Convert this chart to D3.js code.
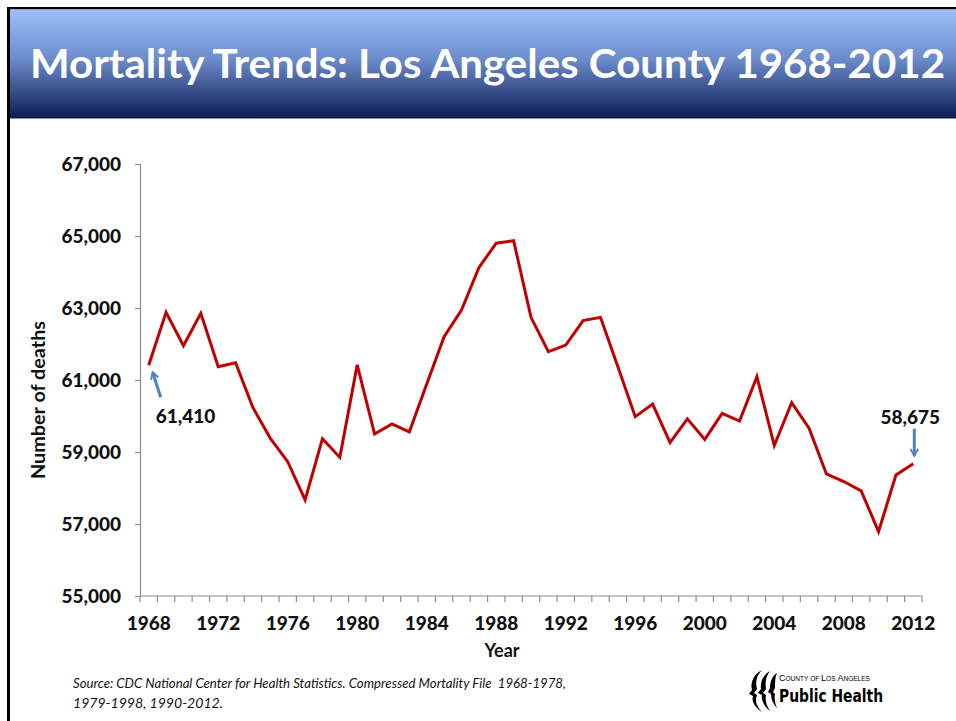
<!DOCTYPE html>
<html>
<head>
<meta charset="utf-8">
<script src="https://cdn.jsdelivr.net/npm/d3@7"></script>
<style>
  html, body { margin: 0; padding: 0; background: #fff; }
  svg { display: block; }
</style>
</head>
<body>
<div id="chart"></div>
<script>
// data
const years = [1968, 1969, 1970, 1971, 1972, 1973, 1974, 1975, 1976, 1977,
  1978, 1979, 1980, 1981, 1982, 1983, 1984, 1985, 1986, 1987,
  1988, 1989, 1990, 1991, 1992, 1993, 1994, 1995, 1996, 1997,
  1998, 1999, 2000, 2001, 2002, 2003, 2004, 2005, 2006, 2007,
  2008, 2009, 2010, 2011, 2012];
const deaths = [61410, 62880, 61950, 62850, 61370, 61480, 60230, 59380, 58730, 57670,
  59370, 58850, 61420, 59500, 59780, 59560, 60890, 62200, 62940, 64120,
  64800, 64870, 62740, 61790, 61970, 62650, 62740, 61370, 59980, 60330,
  59260, 59920, 59350, 60070, 59860, 61090, 59180, 60370, 59660, 58390,
  58180, 57920, 56790, 58360, 58675];
const yTicks = [55000, 57000, 59000, 61000, 63000, 65000, 67000];
const xLabels = [1968, 1972, 1976, 1980, 1984, 1988, 1992, 1996, 2000, 2004, 2008, 2012];
const callouts = [{year: 1968, label: "61,410"}, {year: 2012, label: "58,675"}];

const W = 956, H = 721;
const svg = d3.select("#chart").append("svg")
  .attr("width", W).attr("height", H);

// title bar
const defs = svg.append("defs");
const grad = defs.append("linearGradient").attr("id", "bar")
  .attr("x1", 0).attr("y1", 0).attr("x2", 0).attr("y2", 1);
grad.append("stop").attr("offset", "0%").attr("stop-color", "#9cc0fb");
grad.append("stop").attr("offset", "45%").attr("stop-color", "#6c8ccc");
grad.append("stop").attr("offset", "100%").attr("stop-color", "#0c1c52");

defs.append("marker").attr("id", "head")
  .attr("viewBox", "0 0 10 10").attr("refX", 8).attr("refY", 5)
  .attr("markerWidth", 3.2).attr("markerHeight", 3.2)
  .attr("markerUnits", "strokeWidth").attr("orient", "auto")
  .append("path").attr("d", "M1,1 L8,5 L1,9")
  .attr("fill", "none").attr("stroke", "#4f81bd").attr("stroke-width", 2);

svg.append("rect").attr("x", 7).attr("y", 7).attr("width", W - 7).attr("height", 2.5).attr("fill", "#000");
svg.append("rect").attr("x", 7).attr("y", 7).attr("width", 3).attr("height", H - 7).attr("fill", "#000");
svg.append("rect").attr("x", 10).attr("y", 9.5).attr("width", W - 10).attr("height", 109)
  .attr("fill", "url(#bar)");

svg.append("text")
  .attr("x", 30).attr("y", 78)
  .attr("textLength", 915).attr("lengthAdjust", "spacingAndGlyphs")
  .style("font-family", "Lato, sans-serif").style("font-weight", "bold")
  .style("font-size", "40px").attr("fill", "#fff")
  .text("Mortality Trends: Los Angeles County 1968-2012");

// scales
const x = d3.scaleBand().domain(years).range([140, 922]).padding(0);
const y = d3.scaleLinear().domain([55000, 67000]).range([596, 164]);
const cx = d => x(d) + x.bandwidth() / 2;

const font = "Lato, sans-serif";
const axisColor = "#8c8c8c";

// y axis
const yAxis = svg.append("g").attr("transform", "translate(140,0)")
  .call(d3.axisLeft(y).tickValues(yTicks).tickFormat(d3.format(",")).tickSize(5).tickPadding(14));
yAxis.select(".domain").attr("stroke", axisColor).attr("stroke-width", 1.2);
yAxis.selectAll(".tick line").attr("stroke", axisColor).attr("stroke-width", 1.2);
yAxis.selectAll("text").style("font-family", font).style("font-weight", "900")
  .style("font-size", "19px").attr("fill", "#111");

// x axis: labels on every 4th year, ticks on the band edges
const xAxis = svg.append("g").attr("transform", "translate(0,596)")
  .call(d3.axisBottom(x).tickValues(xLabels).tickSize(0).tickPadding(21));
xAxis.select(".domain").remove();
xAxis.selectAll("text").style("font-family", font).style("font-weight", "900")
  .style("font-size", "19px").attr("fill", "#111");

svg.append("line").attr("x1", 140).attr("x2", 922).attr("y1", 596).attr("y2", 596)
  .attr("stroke", axisColor).attr("stroke-width", 1.2);
svg.append("g").selectAll("line")
  .data(years.map(d => x(d)).concat([x.range()[1]]))
  .join("line")
  .attr("x1", d => d).attr("x2", d => d)
  .attr("y1", 596).attr("y2", 602)
  .attr("stroke", axisColor).attr("stroke-width", 1.2);

// axis titles
svg.append("text").attr("x", 502).attr("y", 657).attr("text-anchor", "middle")
  .style("font-family", font).style("font-weight", "bold").style("font-size", "18px")
  .attr("fill", "#111").text("Year");
svg.append("text").attr("transform", "translate(45,400) rotate(-90)").attr("text-anchor", "middle")
  .attr("textLength", 158).attr("lengthAdjust", "spacingAndGlyphs")
  .style("font-family", font).style("font-weight", "bold").style("font-size", "19px")
  .attr("fill", "#111").text("Number of deaths");

// the line
const line = d3.line().x((d, i) => cx(years[i])).y(d => y(d));
svg.append("path").datum(deaths)
  .attr("d", line)
  .attr("fill", "none").attr("stroke", "#c00000")
  .attr("stroke-width", 3).attr("stroke-linejoin", "miter");

// callouts
const first = callouts[0], last = callouts[1];
const v0 = deaths[years.indexOf(first.year)], v1 = deaths[years.indexOf(last.year)];
svg.append("line")
  .attr("x1", cx(first.year) + 12).attr("y1", y(v0) + 32)
  .attr("x2", cx(first.year) + 4).attr("y2", y(v0) + 7)
  .attr("stroke", "#4f81bd").attr("stroke-width", 3).attr("marker-end", "url(#head)");
svg.append("text").attr("x", cx(first.year) + 7).attr("y", y(v0) + 58)
  .style("font-family", font).style("font-weight", "900").style("font-size", "19px")
  .attr("fill", "#111").text(first.label);
svg.append("line")
  .attr("x1", cx(last.year) + 1).attr("y1", y(v1) - 35)
  .attr("x2", cx(last.year) + 1).attr("y2", y(v1) - 8)
  .attr("stroke", "#4f81bd").attr("stroke-width", 3).attr("marker-end", "url(#head)");
svg.append("text").attr("x", cx(last.year) - 3).attr("y", y(v1) - 40)
  .attr("text-anchor", "middle")
  .style("font-family", font).style("font-weight", "900").style("font-size", "19px")
  .attr("fill", "#111").text(last.label);

// source note
const note = svg.append("g").style("font-family", font).style("font-style", "italic")
  .style("font-size", "14px").attr("fill", "#111");
note.append("text").attr("x", 73).attr("y", 688)
  .attr("xml:space", "preserve")
  .attr("textLength", 493).attr("lengthAdjust", "spacingAndGlyphs")
  .text("Source: CDC National Center for Health Statistics. Compressed Mortality File  1968-1978,");
note.append("text").attr("x", 73).attr("y", 708)
  .attr("textLength", 150).attr("lengthAdjust", "spacingAndGlyphs")
  .text("1979-1998, 1990-2012.");

// logo
const logo = svg.append("g").attr("transform", "translate(748,668)");
logo.append("path").attr("fill", "#000")
  .attr("d", "M14,2 C6,6 2,14 4,22 L1,26 L5,28 C3,34 8,40 14,44 C8,38 7,32 9,27 L6,25 L9,21 C7,13 9,7 14,2 Z");
logo.append("path").attr("fill", "#000")
  .attr("d", "M22,3 C15,7 12,14 13,21 L10,25 L14,27 C13,33 17,39 22,43 C18,37 17,32 18,27 L15,25 L18,21 C17,14 18,8 22,3 Z");
logo.append("path").attr("fill", "#000")
  .attr("d", "M29,5 C24,8 22,14 22,20 L20,24 L23,26 C23,31 25,36 29,40 C27,35 26,31 27,26 L25,24 L27,20 C27,14 27,9 29,5 Z");
const county = logo.append("text").attr("x", 31).attr("y", 13)
  .attr("xml:space", "preserve")
  .attr("textLength", 91).attr("lengthAdjust", "spacingAndGlyphs")
  .style("font-family", "'Liberation Sans', sans-serif").attr("fill", "#000");
[["C", 9], ["OUNTY OF ", 6.5], ["L", 9], ["OS ", 6.5], ["A", 9], ["NGELES", 6.5]]
  .forEach(([t, s]) => county.append("tspan").style("font-size", s + "px").text(t));
logo.append("text").attr("x", 31).attr("y", 34)
  .attr("textLength", 104).attr("lengthAdjust", "spacingAndGlyphs")
  .style("font-family", "'DejaVu Sans Condensed', 'DejaVu Sans', sans-serif")
  .style("font-weight", "bold").style("font-size", "17px").attr("fill", "#000")
  .text("Public Health");
</script>
</body>
</html>
